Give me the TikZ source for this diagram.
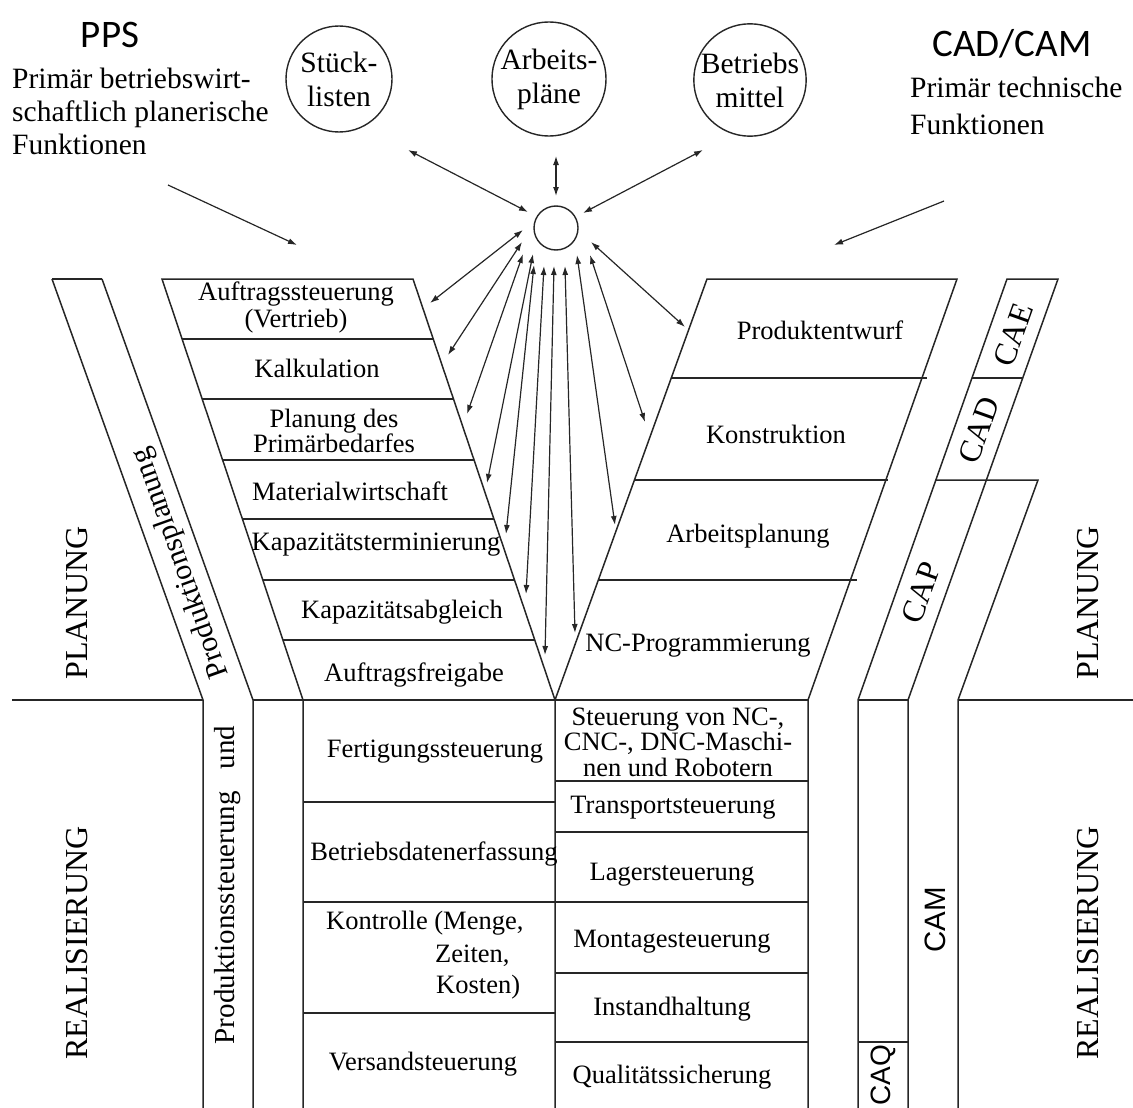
\documentclass[tikz,border=0pt]{standalone}
\usepackage{fontspec}
\setmainfont{Liberation Serif}
\newfontfamily\calibrifont{Carlito}
\newfontfamily\arialfont{Liberation Sans}
\usetikzlibrary{arrows.meta}

\begin{document}
\begin{tikzpicture}[x=1pt,y=-1pt,
  frame/.style={line width=1.5pt, draw=black!85, line join=miter},
  lbl/.style={font=\fontsize{26.5}{26}\selectfont, inner sep=0pt, align=center},
  toptext/.style={font=\fontsize{29.5}{33}\selectfont, inner sep=0pt, align=left},
  bigtext/.style={font=\fontsize{32}{36}\selectfont, inner sep=0pt},
  headline/.style={font=\calibrifont\fontsize{39}{44}\selectfont, inner sep=0pt},
  store/.style={circle, draw=black!85, line width=1.4pt, minimum size=106pt, inner sep=0pt,
                align=center, font=\fontsize{29.5}{34}\selectfont},
  link/.style={line width=1.2pt, draw=black!85, {Latex[length=9pt,width=6pt]}-{Latex[length=9pt,width=6pt]}},
  pointer/.style={line width=1.2pt, draw=black!85, -{Latex[length=9pt,width=6pt]}},
]
\useasboundingbox (0,0) rectangle (1133,1108);

% ---------------- headings ----------------
\node[headline] (pps) at (110,35) {PPS};
\node[toptext, anchor=west] (ppsdesc) at (12,111)
  {Primär betriebswirt-\\schaftlich planerische\\Funktionen};
\node[headline] (cadcam) at (1012,44) {CAD/CAM};
\node[toptext, anchor=west, font=\fontsize{29.5}{37}\selectfont] (caddesc) at (910,106)
  {Primär technische\\Funktionen};

% ---------------- data stores ----------------
\node[store] (stueck) at (339,79) {Stück-\\listen};
\node[store] (arbpl) at (549,79) {Arbeits-\\pläne};
\node[store] (betr) at (750,80) {Betriebs\\mittel};
\node[circle, draw=black!85, line width=1.4pt, minimum size=44pt, inner sep=0pt] (hub) at (556,228) {};

\coordinate (s1) at (408,150); \coordinate (s2) at (528,212);
\coordinate (a1) at (556,156); \coordinate (a2) at (556,196);
\coordinate (b1) at (703,150); \coordinate (b2) at (583,213);
\draw[link] (s1) -- (s2);
\draw[link] (a1) -- (a2);
\draw[link] (b1) -- (b2);

\coordinate (p1) at (168,185); \coordinate (p2) at (297,245);
\coordinate (c1) at (944,201); \coordinate (c2) at (834,245);
\draw[pointer] (p1) -- (p2);
\draw[pointer] (c1) -- (c2);

% ---------------- frame lines ----------------
% left band (Produktionsplanung / -steuerung)
\draw[frame] (12,700) -- (203,700);
\draw[frame] (52,279) -- (102,279);
\draw[frame] (52,279) -- (203,700) -- (203,1110);
\draw[frame] (102,279) -- (253,700) -- (253,1110);
% PPS funnel
\draw[frame] (303,1110) -- (303,700) -- (162,279) -- (413,279) -- (555,700) -- (555,1110);
\draw[frame] (253,700) -- (808,700);
% CAD/CAM funnel
\draw[frame] (555,700) -- (707,279) -- (957,279) -- (808,700) -- (808,1110);
% CAE / CAD / CAP band and CAQ column
\draw[frame] (858,1110) -- (858,700) -- (1007,279) -- (1058,279) -- (908,700) -- (908,1110);
\draw[frame] (858,700) -- (908,700);
\draw[frame] (972,378) -- (1023,378);
% CAM band
\draw[frame] (935,480) -- (1038,480) -- (958,700) -- (958,1110);
\draw[frame] (958,700) -- (1133,700);
\draw[frame] (858,1042) -- (908,1042);

% PPS rows
\draw[frame] (182.1,339) -- (433.2,339);
\draw[frame] (202.2,399) -- (453.5,399);
\draw[frame] (222.6,460) -- (474.1,460);
\draw[frame] (242.4,519) -- (494.0,519);
\draw[frame] (262.8,580) -- (514.5,580);
\draw[frame] (282.9,640) -- (534.8,640);
% CAD/CAM rows
\draw[frame] (671.3,378) -- (927,378);
\draw[frame] (634.4,480) -- (888,480);
\draw[frame] (598.3,580) -- (857,580);
% realisation rows
\draw[frame] (303,802) -- (555,802);
\draw[frame] (303,902) -- (808,902);
\draw[frame] (303,1013) -- (555,1013);
\draw[frame] (555,781) -- (808,781);
\draw[frame] (555,832) -- (808,832);
\draw[frame] (555,973) -- (808,973);
\draw[frame] (555,1042) -- (808,1042);

% ---------------- function labels ----------------
\node[lbl, font=\fontsize{26.5}{27}\selectfont] (auftrag) at (296,307) {Auftragssteuerung\\(Vertrieb)};
\node[lbl] (kalk) at (317,368) {Kalkulation};
\node[lbl, font=\fontsize{26.5}{25}\selectfont] (primaer) at (334,431) {Planung des\\Primärbedarfes};
\node[lbl] (material) at (350,491) {Materialwirtschaft};
\node[lbl] (kapterm) at (376,545) {Kapazitätsterminierung};
\node[lbl] (kapabg) at (402,612) {Kapazitätsabgleich};
\node[lbl] (freigabe) at (414,675) {Auftragsfreigabe};

\node[lbl] (entwurf) at (820,330) {Produktentwurf};
\node[lbl] (konstr) at (776,434) {Konstruktion};
\node[lbl] (arbplan) at (748,536) {Arbeitsplanung};
\node[lbl] (ncprog) at (698,646) {NC-Programmierung};

\node[lbl] (fertig) at (435,752) {Fertigungssteuerung};
\node[lbl] (bde) at (434,854) {Betriebsdatenerfassung};
\node[lbl, anchor=west] (kontrA) at (326,923) {Kontrolle (Menge,};
\node[lbl, anchor=west] (kontrB) at (435,956) {Zeiten,};
\node[lbl, anchor=west] (kontrC) at (436,987) {Kosten)};
\node[lbl] (versand) at (423,1064) {Versandsteuerung};

\node[lbl, font=\fontsize{26.5}{25.5}\selectfont] (ncsteu) at (678,742)
  {Steuerung von NC-,\\CNC-, DNC-Maschi-\\nen und Robotern};
\node[lbl] (transp) at (673,808) {Transportsteuerung};
\node[lbl] (lager) at (672,875) {Lagersteuerung};
\node[lbl] (montage) at (672,942) {Montagesteuerung};
\node[lbl] (instand) at (672,1009) {Instandhaltung};
\node[lbl] (quali) at (672,1077) {Qualitätssicherung};

% ---------------- band labels ----------------
\node[bigtext, rotate=90] (planL) at (77,603) {PLANUNG};
\node[bigtext, rotate=90] (realL) at (77,943) {REALISIERUNG};
\node[bigtext, rotate=90] (planR) at (1088,603) {PLANUNG};
\node[bigtext, rotate=90] (realR) at (1088,943) {REALISIERUNG};

\node[inner sep=0pt, rotate=109.7, font=\fontsize{30}{30}\selectfont] (pplan) at (181,563) {Produktionsplanung};
\node[inner sep=0pt, rotate=90, font=\fontsize{29}{29}\selectfont] (psteu) at (228,885)
  {Produktionssteuerung\hspace{22pt}und};

\node[bigtext, rotate=70.4] (cae) at (1013,335) {CAE};
\node[bigtext, rotate=70.4] (cad) at (979,430) {CAD};
\node[bigtext, rotate=70.4] (cap) at (921,593) {CAP};
\node[inner sep=0pt, rotate=90, font=\arialfont\fontsize{29.5}{30}\selectfont] (cam) at (935,920) {CAM};
\node[inner sep=0pt, rotate=90, font=\arialfont\fontsize{28}{28}\selectfont] (caq) at (883,1075) {CAQ};

% ---------------- integration arrows ----------------
\foreach \i/\hx/\hy/\ex/\ey in {
   1/523/230/430/303,
   2/522/242/448/355,
   3/523/254/467/414,
   4/533/254/487/483,
   5/534/265/506/534,
   6/544/266/526/594,
   7/554/266/545/655,
   8/565/266/575/633,
   9/577/255/615/525,
  10/590/255/645/422,
  11/591/242/685/327} {
  \coordinate (h\i) at (\hx,\hy);
  \coordinate (e\i) at (\ex,\ey);
  \draw[link] (h\i) -- (e\i);
}
\end{tikzpicture}
\end{document}
